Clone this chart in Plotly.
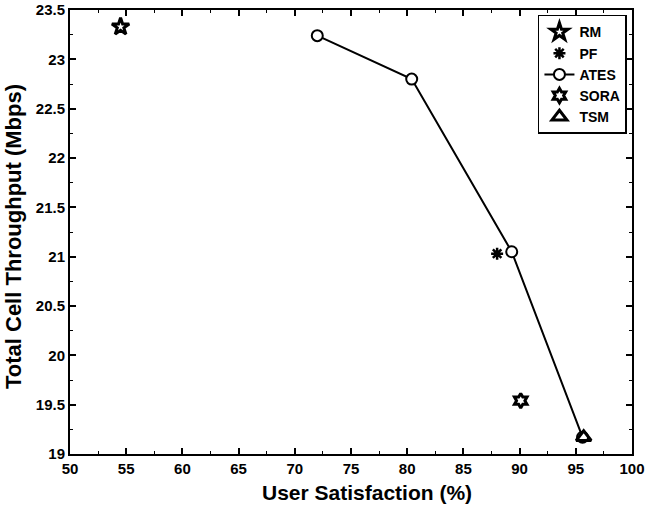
import plotly.graph_objects as go

rm_x = [54.5]
rm_y = [23.33]
pf_x = [88.0]
pf_y = [21.03]
ates_x = [72.0, 80.4, 89.3, 95.6]
ates_y = [23.24, 22.8, 21.05, 19.17]
sora_x = [90.1]
sora_y = [19.54]
tsm_x = [95.7]
tsm_y = [19.17]

x_ticks = [50, 55, 60, 65, 70, 75, 80, 85, 90, 95, 100]
y_ticks = [19, 19.5, 20, 20.5, 21, 21.5, 22, 22.5, 23, 23.5]
x_title = "User Satisfaction (%)"
y_title = "Total Cell Throughput (Mbps)"

fnt = "Liberation Sans, Arial, sans-serif"
fig = go.Figure()
fig.add_trace(go.Scatter(x=rm_x, y=rm_y, mode="markers", name="<b>RM</b>",
    marker=dict(symbol="star-open", size=13, color="black", line=dict(width=3, color="black"))))
fig.add_trace(go.Scatter(x=pf_x, y=pf_y, mode="markers", name="<b>PF</b>",
    marker=dict(symbol="asterisk-open", size=10, color="black", line=dict(width=2.5, color="black"))))
fig.add_trace(go.Scatter(x=ates_x, y=ates_y, mode="lines+markers", name="<b>ATES</b>",
    line=dict(color="black", width=2),
    marker=dict(symbol="circle", size=11, color="white", line=dict(width=2, color="black"))))
fig.add_trace(go.Scatter(x=sora_x, y=sora_y, mode="markers", name="<b>SORA</b>",
    marker=dict(symbol="hexagram-open", size=11, color="black", line=dict(width=3, color="black"))))
fig.add_trace(go.Scatter(x=tsm_x, y=tsm_y, mode="markers", name="<b>TSM</b>",
    marker=dict(symbol="triangle-up-open", size=13, color="black", line=dict(width=3, color="black"))))

axis_common = dict(showgrid=False, zeroline=False, showline=True, linecolor="black", linewidth=2,
    mirror="allticks", ticks="inside", ticklen=6, tickwidth=1.5, tickcolor="black", automargin=False,
    tickfont=dict(family=fnt, size=15, color="black", weight="bold"))
fig.update_xaxes(range=[50, 100], tickmode="array", tickvals=x_ticks,
    ticktext=["<b>%g</b>" % v for v in x_ticks],
    minor=dict(ticks="inside", dtick=2.5, tick0=50, ticklen=3, tickwidth=1.2, tickcolor="black"),
    **axis_common)
fig.update_yaxes(range=[19, 23.5], tickmode="array", tickvals=y_ticks,
    ticktext=["<b>%g</b>" % v for v in y_ticks],
    minor=dict(ticks="inside", dtick=0.25, tick0=19, ticklen=3, tickwidth=1.2, tickcolor="black"),
    **axis_common)
fig.add_annotation(text="<b>%s</b>" % x_title, xref="paper", yref="paper", x=0.5285, y=-0.0856,
    xanchor="center", yanchor="middle", showarrow=False, font=dict(family=fnt, size=21, color="black"))
fig.add_annotation(text="<b>%s</b>" % y_title, xref="paper", yref="paper", x=-0.1014, y=0.4887,
    xanchor="center", yanchor="middle", textangle=-90, showarrow=False,
    font=dict(family=fnt, size=22, color="black"))
fig.update_layout(width=646, height=506, margin=dict(l=70, r=14, t=10, b=52, autoexpand=False),
    plot_bgcolor="white", paper_bgcolor="white",
    legend=dict(x=0.991, y=0.989, xanchor="right", yanchor="top", bordercolor="black", borderwidth=1.5,
        bgcolor="white", font=dict(family=fnt, size=14, color="black"), tracegroupgap=0, itemwidth=30))
fig.write_html("out.html")
